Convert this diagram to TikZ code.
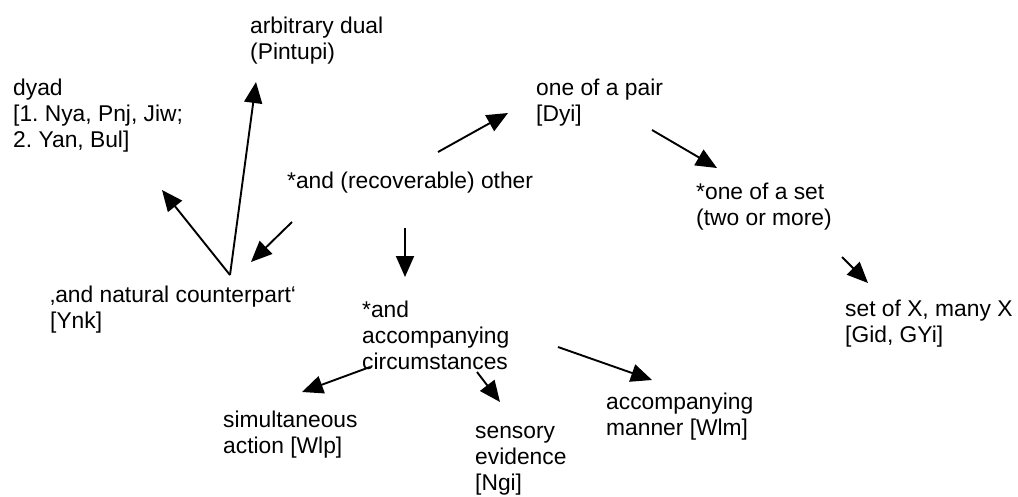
\documentclass[tikz,border=0pt]{standalone}
\usepackage{fontspec}
\setmainfont{Liberation Sans}
\frenchspacing
\usetikzlibrary{arrows.meta}
\begin{document}
\begin{tikzpicture}[x=1pt,y=-1pt,
  lbl/.style={anchor=base west,inner sep=0pt,align=left,font=\fontsize{22.8}{26}\selectfont},
  conn/.style={line width=1.9pt,-{Triangle[length=21pt,width=18pt]}}]
\useasboundingbox (0,0) rectangle (1018,496);
% nodes (anchored at the baseline of the last line)
\node[lbl] (arb) at (250,59) {arbitrary dual\\(Pintupi)};
\node[lbl] (dyad) at (13,147) {dyad\\{[}1. Nya, Pnj, Jiw;\\2. Yan, Bul]};
\node[lbl] (other) at (287,188) {*and (recoverable) other};
\node[lbl] (pair) at (536,121) {one of a pair\\{[}Dyi]};
\node[lbl] (set) at (696,225) {*one of a set\\(two or more)};
\node[lbl] (many) at (845,342) {set of X, many X\\{[}Gid, GYi]};
\node[lbl] (nat) at (50,328) {‚and natural counterpart‘\\{[}Ynk]};
\node[lbl] (acc) at (362,369) {*and\\accompanying\\circumstances};
\node[lbl] (sim) at (223,453) {simultaneous\\action [Wlp]};
\node[lbl] (sens) at (475,490) {sensory\\evidence\\{[}Ngi]};
\node[lbl] (man) at (606,435) {accompanying\\manner [Wlm]};
% connector end points
\coordinate (natTop) at (230,275);
\coordinate (arbEnd) at (256,82);
\coordinate (dyadEnd) at (162,190);
\coordinate (otherSW) at (292,222);
\coordinate (natEnd) at (251,262);
\coordinate (otherS) at (405,228);
\coordinate (accEnd) at (405,277);
\coordinate (otherNE) at (438,152);
\coordinate (pairEnd) at (508,113);
\coordinate (pairSE) at (652,130);
\coordinate (setEnd) at (717,168);
\coordinate (setSE) at (842,257);
\coordinate (manyEnd) at (868,283);
\coordinate (accSW) at (370,367);
\coordinate (simEnd) at (302,392);
\coordinate (accS) at (477,372);
\coordinate (sensEnd) at (500,402);
\coordinate (accSE) at (558,347);
\coordinate (manEnd) at (652,380);
% connectors
\draw[conn] (natTop) -- (arbEnd);
\draw[conn] (natTop) -- (dyadEnd);
\draw[conn] (otherSW) -- (natEnd);
\draw[conn] (otherS) -- (accEnd);
\draw[conn] (otherNE) -- (pairEnd);
\draw[conn] (pairSE) -- (setEnd);
\draw[conn] (setSE) -- (manyEnd);
\draw[conn] (accSW) -- (simEnd);
\draw[conn] (accS) -- (sensEnd);
\draw[conn] (accSE) -- (manEnd);
\end{tikzpicture}
\end{document}
